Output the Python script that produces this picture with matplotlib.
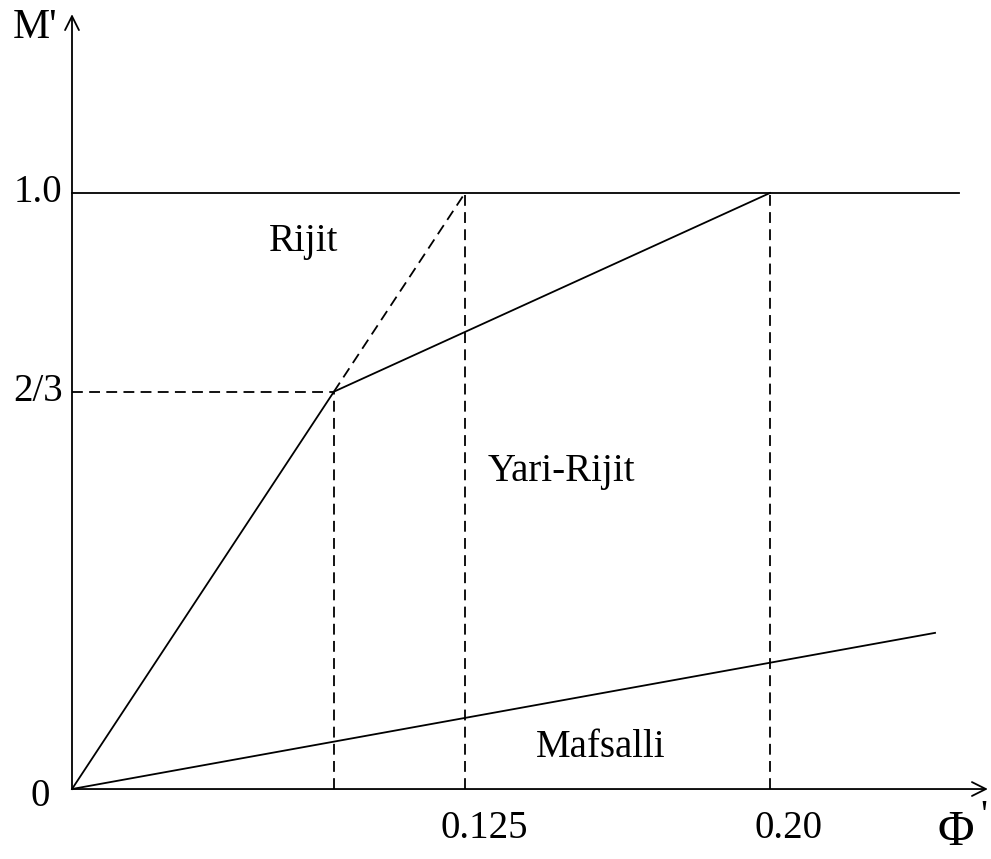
"""
Rijit / Yari-Rijit / Mafsalli bölge diyagramı (M' - Φ').
Schematic chart: x positions are drawing positions, tick labels carry the values.
"""

import matplotlib.pyplot as plt

plt.rcParams.update(
    {
        "font.family": ["Liberation Serif", "DejaVu Serif"],
        "font.size": 28,
    }
)

# ── Data (schematic positions) ────────────────────────────────────────────
ORIGIN = (0.0, 0.0)
KINK = (0.0833, 2 / 3)          # end of rigid branch
RIGID_TOP = (0.125, 1.0)        # dashed extension of rigid branch
SEMI_TOP = (0.222, 1.0)         # end of semi-rigid branch
HINGE_END = (0.2745, 0.262)     # end of pinned line

Y_TICKS = [1.0, 2 / 3, 0.0]
Y_LABELS = ["1.0", "2/3", "0"]
X_TICKS = [0.125, 0.222]
X_LABELS = ["0.125", "0.20"]

REGIONS = ["Rijit", "Yari-Rijit", "Mafsalli"]
REGION_POS = [(0.0737, 0.919), (0.1558, 0.532), (0.168, 0.069)]

X_END = 0.2913   # x-axis arrow tip
Y_END = 1.300    # y-axis arrow tip
TOP_END = 0.2821 # right end of the M'=1 line

LW = 1.3
DASH = (0, (6, 3.5))

fig = plt.figure(figsize=(9.91, 8.59), dpi=100)
ax = fig.add_axes([0, 0, 1, 1])
ax.set_xlim(-0.0229, 0.2923)
ax.set_ylim(-0.1174, 1.3238)
ax.axis("off")

# axes with open arrowheads
arrow = dict(arrowstyle="->", color="black", lw=LW, mutation_scale=25, shrinkA=0, shrinkB=0)
ax.annotate("", xy=(X_END, 0), xytext=ORIGIN, arrowprops=arrow)
ax.annotate("", xy=(0, Y_END), xytext=ORIGIN, arrowprops=arrow)

# M' = 1 line
ax.plot([0, TOP_END], [1.0, 1.0], color="black", lw=LW)

# solid branches
ax.plot([ORIGIN[0], KINK[0], SEMI_TOP[0]], [ORIGIN[1], KINK[1], SEMI_TOP[1]], color="black", lw=LW)
ax.plot([ORIGIN[0], HINGE_END[0]], [ORIGIN[1], HINGE_END[1]], color="black", lw=LW)

# dashed guides
ax.plot([KINK[0], RIGID_TOP[0]], [KINK[1], RIGID_TOP[1]], color="black", lw=LW, ls=DASH)
ax.plot([0, KINK[0]], [KINK[1], KINK[1]], color="black", lw=LW, ls=DASH)
for x, y in [KINK, RIGID_TOP, SEMI_TOP]:
    ax.plot([x, x], [0, y], color="black", lw=LW, ls=DASH)

# tick labels
for y, lab in zip(Y_TICKS, Y_LABELS):
    if lab == "0":
        ax.text(-0.0100, y - 0.012, lab, ha="center", va="center")
    else:
        ax.text(-0.0030, y, lab, ha="right", va="center")
for x, lab in zip(X_TICKS, X_LABELS):
    ax.text(x + 0.006, -0.035, lab, ha="center", va="top")

# axis titles
ax.text(-0.0118, 1.277, "M'", ha="center", va="center", fontsize=30)
ax.text(0.2812, -0.073, "Φ", ha="center", va="center", fontsize=36)
ax.text(0.2900, -0.048, "'", ha="center", va="center", fontsize=28)

# region labels
for lab, (x, y) in zip(REGIONS, REGION_POS):
    ax.text(x, y, lab, ha="center", va="center")

fig.savefig("out.png", dpi=100)
